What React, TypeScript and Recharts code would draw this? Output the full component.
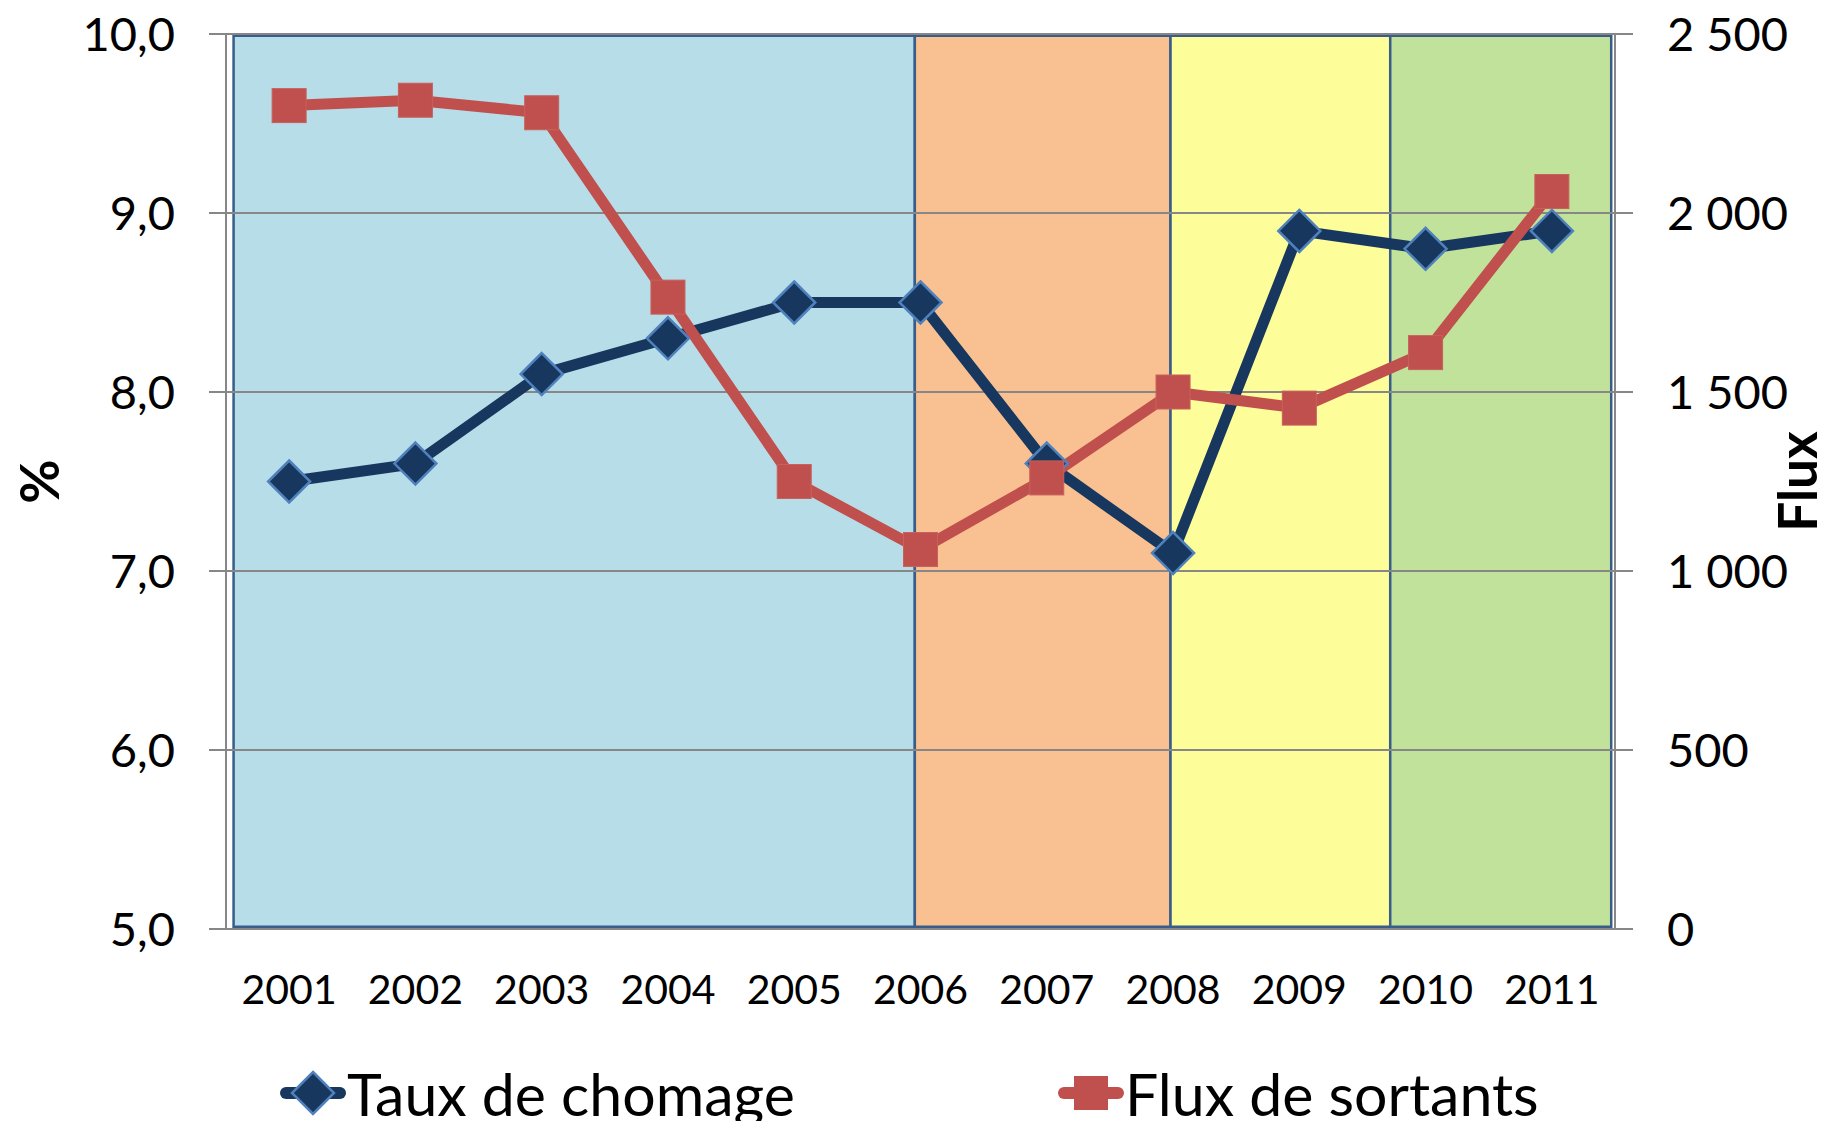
import React from 'react';
import {
  ComposedChart,
  Line,
  XAxis,
  YAxis,
  CartesianGrid,
  ReferenceArea,
  Legend,
} from 'recharts';

// ---- data ----
const years = ['2001', '2002', '2003', '2004', '2005', '2006', '2007', '2008', '2009', '2010', '2011'];
const tauxChomage = [7.5, 7.6, 8.1, 8.3, 8.5, 8.5, 7.6, 7.1, 8.9, 8.8, 8.9];
const fluxSortants = [2300, 2315, 2280, 1765, 1250, 1060, 1260, 1500, 1455, 1610, 2060];

const leftTicks = [5, 6, 7, 8, 9, 10];
const rightTicks = [0, 500, 1000, 1500, 2000, 2500];

// background periods, in category units (0 = 2001)
const periodStart = [-0.44, 4.955, 6.98, 8.72];
const periodEnd = [4.955, 6.98, 8.72, 10.47];
const periodColors = ['#B7DDE8', '#F9C091', '#FDFD99', '#C1E29A'];

const seriesNames = ['Taux de chomage', 'Flux de sortants'];
const seriesColors = ['#17375E', '#C0504D'];

const data = years.map((y, i) => ({ idx: i, year: y, taux: tauxChomage[i], flux: fluxSortants[i] }));
const labelTicks = years.map((_, i) => i);
const boundTicks = [...years.map((_, i) => i - 0.5), years.length - 0.5];

const GRID = '#878787';
const FONT = 'Lato, "Open Sans", sans-serif';

const fmtLeft = (v: number) => v.toFixed(1).replace('.', ',');
const fmtRight = (v: number) => (v >= 1000 ? `${Math.floor(v / 1000)}\u00a0${String(v % 1000).padStart(3, '0')}` : String(v));

const DiamondDot = (props: any) => {
  const { cx, cy } = props;
  if (cx == null || cy == null) return null;
  const r = 21;
  return (
    <path
      d={`M${cx},${cy - r}L${cx + r},${cy}L${cx},${cy + r}L${cx - r},${cy}Z`}
      fill="#17375E"
      stroke="#4F81BD"
      strokeWidth={2.5}
    />
  );
};

const SquareDot = (props: any) => {
  const { cx, cy } = props;
  if (cx == null || cy == null) return null;
  const s = 17;
  return <rect x={cx - s} y={cy - s} width={2 * s} height={2 * s} fill="#C0504D" stroke="#C9605C" strokeWidth={1} />;
};

const LeftTitle = (props: any) => {
  const { viewBox } = props;
  const x = viewBox.x + 38;
  const y = viewBox.y + viewBox.height / 2;
  return (
    <text x={x} y={y} transform={`rotate(-90, ${x}, ${y})`} textAnchor="middle" dominantBaseline="central"
      fontFamily={FONT} fontWeight="bold" fontSize={54} fill="#000">%</text>
  );
};

const RightTitle = (props: any) => {
  const { viewBox } = props;
  const x = viewBox.x + 181;
  const y = viewBox.y + viewBox.height / 2;
  return (
    <text x={x} y={y} transform={`rotate(-90, ${x}, ${y})`} textAnchor="middle" dominantBaseline="central"
      fontFamily={FONT} fontWeight="bold" fontSize={53} fill="#000">Flux</text>
  );
};

const LegendContent = () => (
  <div style={{ position: 'relative', width: 1822, height: 60, fontFamily: FONT }}>
    <div style={{ position: 'absolute', left: 280, top: 0, height: 64, display: 'flex', alignItems: 'center' }}>
      <svg width={66} height={48}>
        <line x1={6} y1={24} x2={60} y2={24} stroke={seriesColors[0]} strokeWidth={12} strokeLinecap="round" />
        <path d="M33,3L54,24L33,45L12,24Z" fill="#17375E" stroke="#4F81BD" strokeWidth={2.5} />
      </svg>
      <span style={{ fontSize: 59, color: '#000', marginLeft: 1, whiteSpace: 'nowrap' }}>{seriesNames[0]}</span>
    </div>
    <div style={{ position: 'absolute', left: 1058, top: 0, height: 64, display: 'flex', alignItems: 'center' }}>
      <svg width={66} height={48}>
        <line x1={6} y1={24} x2={60} y2={24} stroke={seriesColors[1]} strokeWidth={12} strokeLinecap="round" />
        <rect x={16} y={7} width={34} height={34} fill="#C0504D" />
      </svg>
      <span style={{ fontSize: 59, color: '#000', marginLeft: 1, whiteSpace: 'nowrap' }}>{seriesNames[1]}</span>
    </div>
  </div>
);

export default function App() {
  return (
    <div style={{ position: 'absolute', left: 0, top: 0, width: 1822, height: 1121, background: '#fff', overflow: 'hidden' }}>
      <ComposedChart
        width={1822}
        height={1121}
        data={data}
        margin={{ top: 34, right: 0, bottom: 0, left: 0 }}
        style={{ fontFamily: FONT }}
      >
        {periodColors.map((c, i) => (
          <ReferenceArea
            key={i}
            xAxisId="labels"
            yAxisId="left"
            x1={periodStart[i]}
            x2={periodEnd[i]}
            y1={5.012}
            y2={9.99}
            fill={c}
            fillOpacity={1}
            stroke="#385D8A"
            strokeWidth={2.5}
            zIndex={-200}
          />
        ))}
        <CartesianGrid yAxisId="left" xAxisId="labels" vertical={false} stroke={GRID} strokeWidth={2} />
        <XAxis
          xAxisId="bounds"
          type="number"
          dataKey="idx"
          domain={[-0.5, 10.5]}
          ticks={boundTicks}
          interval={0}
          tick={false}
          tickSize={14}
          tickLine={{ stroke: GRID, strokeWidth: 2 }}
          axisLine={{ stroke: GRID, strokeWidth: 2 }}
          height={0}
        />
        <XAxis
          xAxisId="labels"
          type="number"
          dataKey="idx"
          domain={[-0.5, 10.5]}
          ticks={labelTicks}
          interval={0}
          tickFormatter={(v: number) => years[v]}
          tickLine={false}
          axisLine={false}
          tickSize={0}
          tickMargin={46}
          tick={{ fill: '#000', fontSize: 41, fontFamily: FONT }}
          height={132}
        />
        <YAxis
          yAxisId="left"
          domain={[5, 10]}
          ticks={leftTicks}
          interval={0}
          width={226}
          tickFormatter={fmtLeft}
          tickSize={17}
          tickMargin={34}
          tickLine={{ stroke: GRID, strokeWidth: 2 }}
          axisLine={{ stroke: GRID, strokeWidth: 2 }}
          tick={{ fill: '#000', fontSize: 47, fontFamily: FONT }}
          label={<LeftTitle />}
        />
        <YAxis
          yAxisId="right"
          orientation="right"
          domain={[0, 2500]}
          ticks={rightTicks}
          interval={0}
          width={207}
          tickFormatter={fmtRight}
          tickSize={18}
          tickMargin={34}
          tickLine={{ stroke: GRID, strokeWidth: 2 }}
          axisLine={{ stroke: GRID, strokeWidth: 2 }}
          tick={{ fill: '#000', fontSize: 47, fontFamily: FONT }}
          label={<RightTitle />}
        />
        <Line
          xAxisId="labels"
          yAxisId="left"
          type="linear"
          dataKey="taux"
          name={seriesNames[0]}
          stroke={seriesColors[0]}
          strokeWidth={11}
          strokeLinejoin="round"
          dot={<DiamondDot />}
          activeDot={false}
          isAnimationActive={false}
        />
        <Line
          xAxisId="labels"
          yAxisId="right"
          type="linear"
          dataKey="flux"
          name={seriesNames[1]}
          stroke={seriesColors[1]}
          strokeWidth={11}
          strokeLinejoin="round"
          dot={<SquareDot />}
          activeDot={false}
          isAnimationActive={false}
        />
        <Legend verticalAlign="bottom" height={60} wrapperStyle={{ left: 0, width: 1822, height: 60 }} content={<LegendContent />} />
      </ComposedChart>
    </div>
  );
}
